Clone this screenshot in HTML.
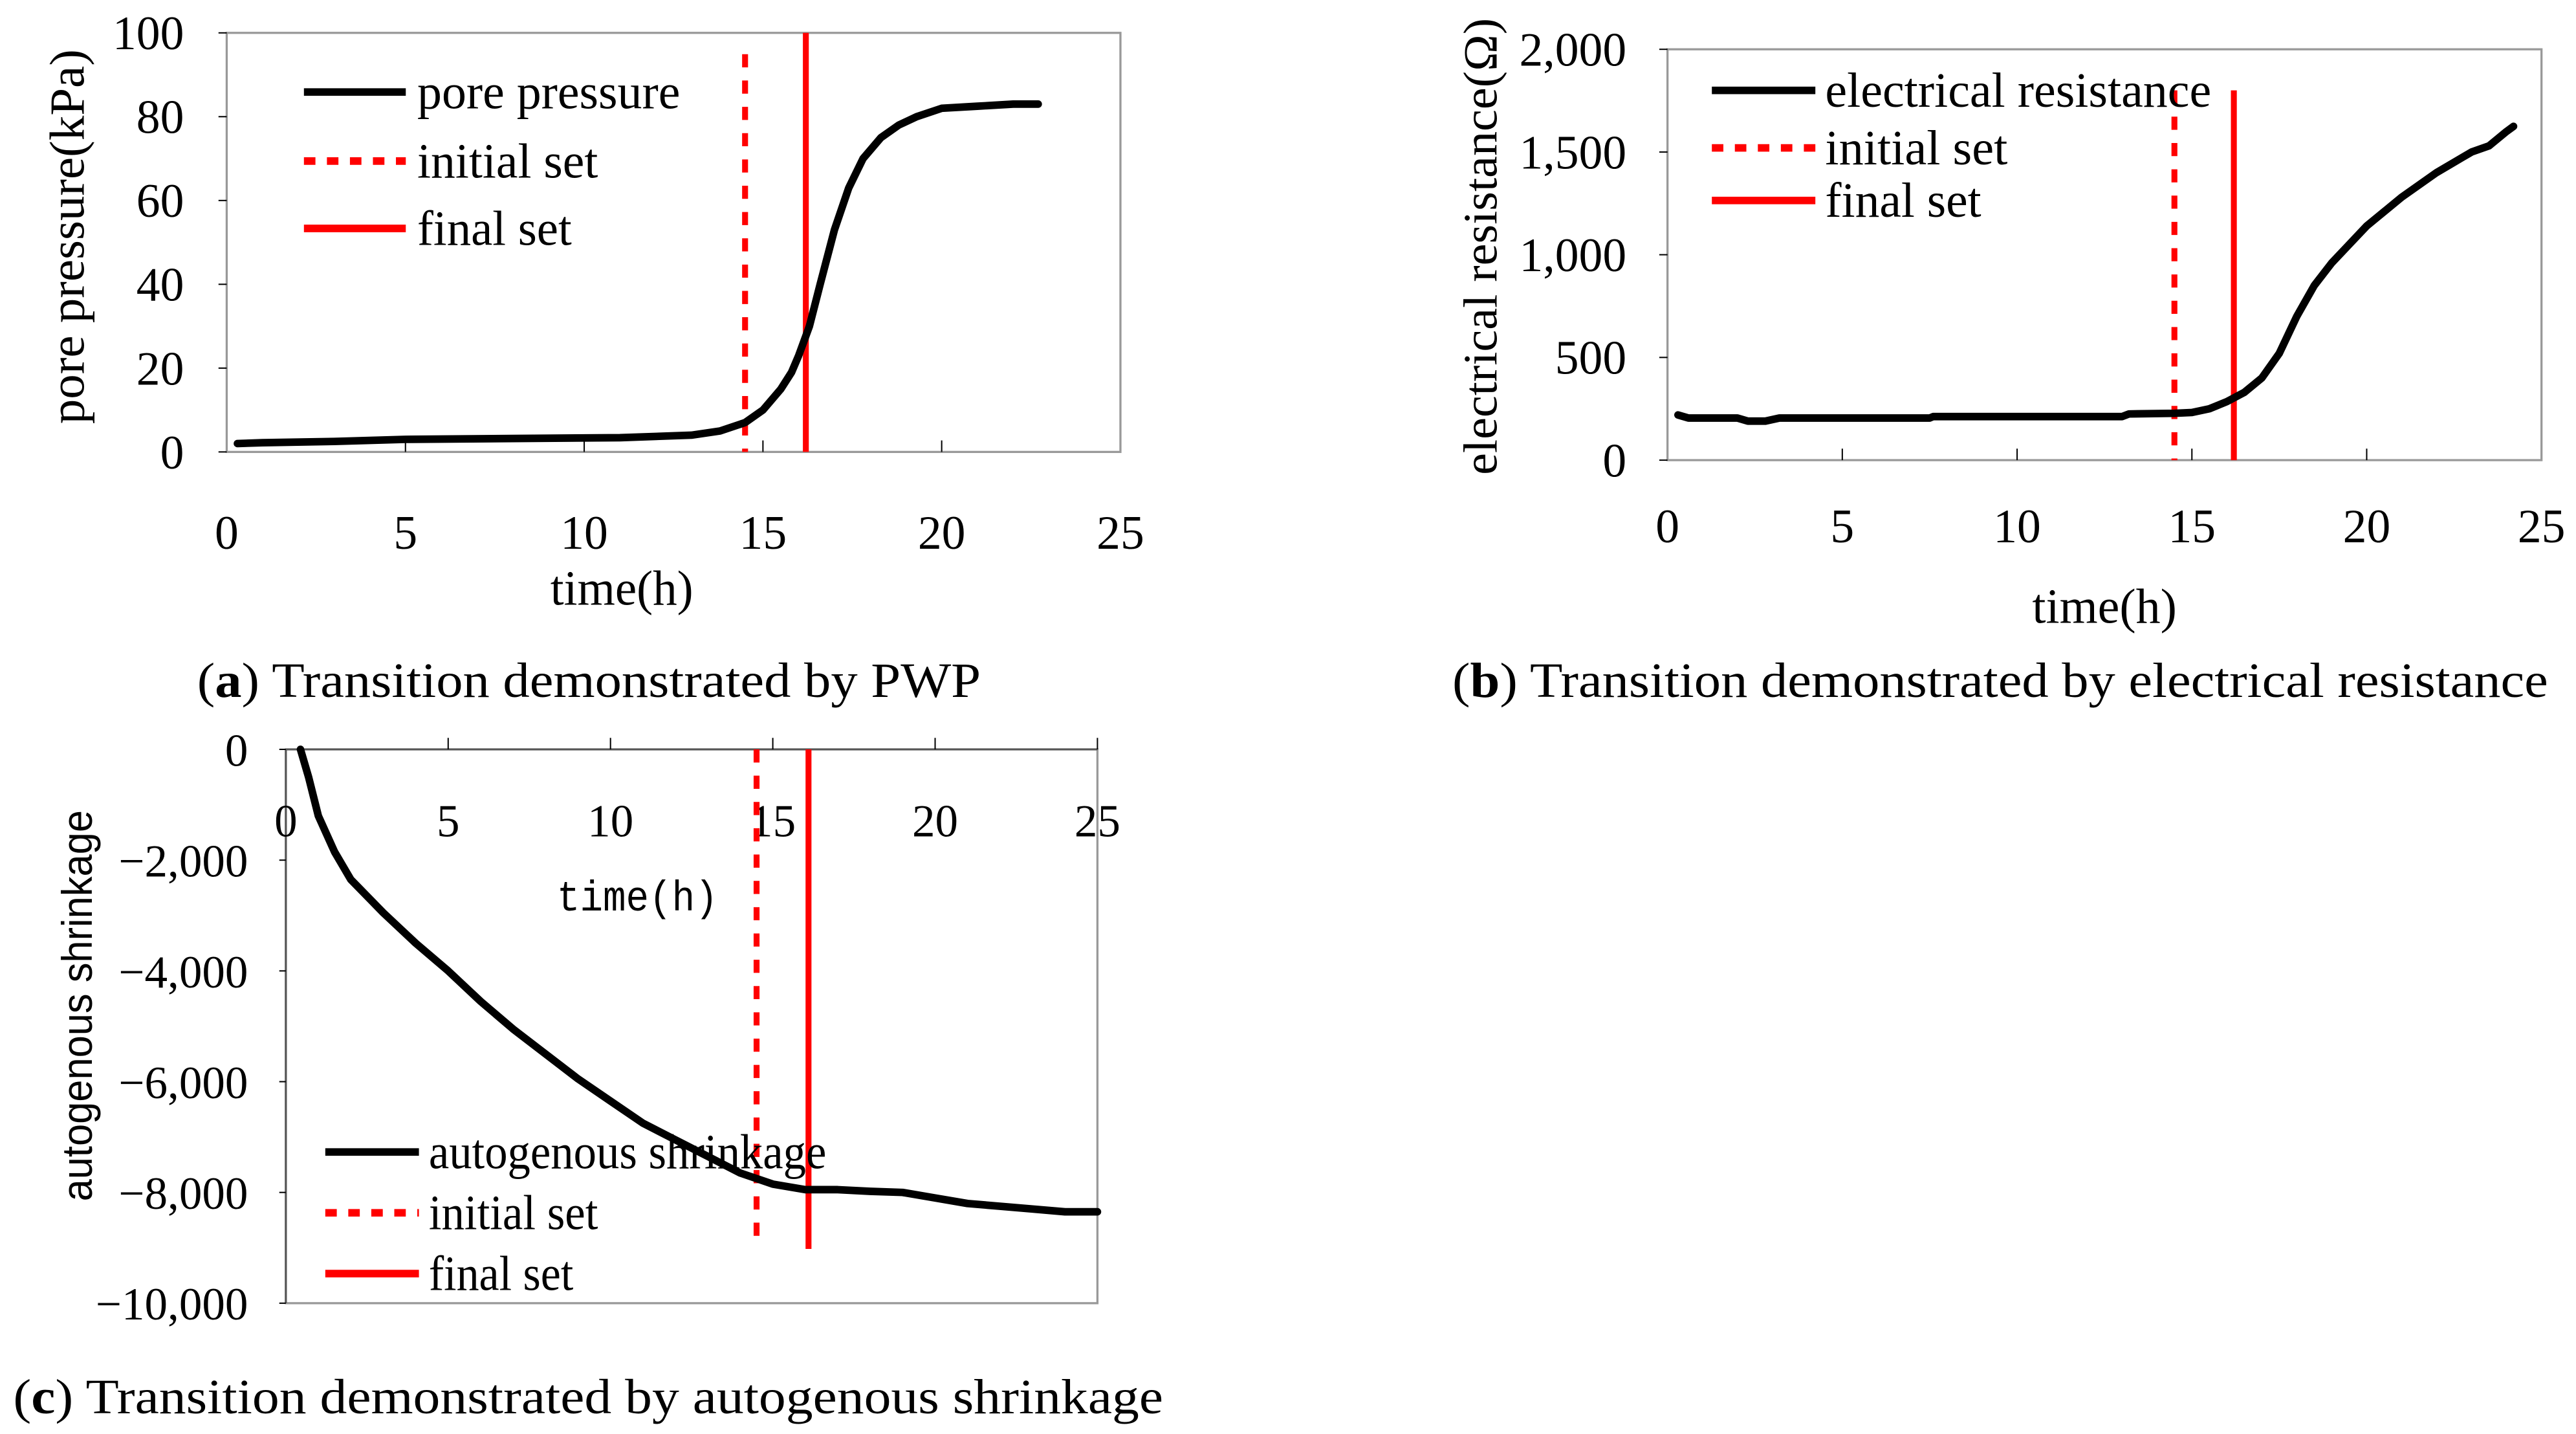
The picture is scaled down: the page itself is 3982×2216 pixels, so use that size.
<!DOCTYPE html>
<html><head><meta charset="utf-8">
<style>
html,body{margin:0;padding:0;background:#fff;}
svg{display:block;}
text{font-family:"Liberation Serif",serif;fill:#000;}
.sans{font-family:"Liberation Sans",sans-serif;}
.mono{font-family:"Liberation Mono",monospace;}
</style></head>
<body>
<svg id="fig" width="3982" height="2216" viewBox="0 0 1568 872.6" xmlns="http://www.w3.org/2000/svg">
<g id="pa"></g>
<g id="pb"></g>
<g id="pc"></g>
<text x="120" y="424" font-size="30" textLength="477" lengthAdjust="spacingAndGlyphs">(<tspan font-weight="bold">a</tspan>) Transition demonstrated by PWP</text>
<text x="884" y="424" font-size="30" textLength="667" lengthAdjust="spacingAndGlyphs">(<tspan font-weight="bold">b</tspan>) Transition demonstrated by electrical resistance</text>
<text x="8" y="860" font-size="30" textLength="700" lengthAdjust="spacingAndGlyphs">(<tspan font-weight="bold">c</tspan>) Transition demonstrated by autogenous shrinkage</text>
</svg>
<script>
// Panel A data
const aTimes = [0.3,1,3,5,8,11,13,13.8,14.5,15,15.5,15.8,16,16.3,16.6,17,17.4,17.8,18.3,18.8,19.3,20,21,22,22.7];
const aValues = [2,2.2,2.5,3,3.2,3.4,4,5,7,10,15,19,23,30,40,53,63,70,75,78,80,82,82.5,83,83];
const aYTicks = [0,20,40,60,80,100];
const aXTicks = [0,5,10,15,20,25];
const aSets = [14.5,16.2];
// Panel B data
const bTimes = [0.3,0.6,2,2.3,2.8,3.2,7.5,7.6,13,13.2,14.5,15,15.5,16,16.5,17,17.5,18,18.5,19,19.5,20,21,22,23,23.5,24,24.2];
const bValues = [220,205,205,190,190,205,205,212,212,225,228,232,250,285,330,400,520,700,850,960,1050,1140,1280,1400,1500,1530,1600,1625];
const bYTicks = [0,500,1000,1500,2000];
const bYLabels = ["0","500","1,000","1,500","2,000"];
const bXTicks = [0,5,10,15,20,25];
const bSets = [14.5,16.2];
// Panel C data
const cTimes = [0.45,0.7,1,1.5,2,3,4,5,6,7,8,9,10,11,12,13,14,15,16,17,18,19,20,21,22,23,24,25];
const cValues = [0,-500,-1200,-1850,-2350,-2950,-3500,-4000,-4550,-5050,-5500,-5950,-6350,-6750,-7050,-7350,-7650,-7850,-7950,-7950,-7980,-8000,-8100,-8200,-8250,-8300,-8350,-8350];
const cYTicks = [0,-2000,-4000,-6000,-8000,-10000];
const cYLabels = ["0","\u22122,000","\u22124,000","\u22126,000","\u22128,000","\u221210,000"];
const cXTicks = [0,5,10,15,20,25];
const cSets = [14.5,16.1];

const NS="http://www.w3.org/2000/svg";
function mk(parent,tag,attrs,txt){const e=document.createElementNS(NS,tag);for(const k in attrs)e.setAttribute(k,attrs[k]);if(txt!==undefined)e.textContent=txt;parent.appendChild(e);return e;}
function scale(d0,d1,r0,r1){return v=>r0+(v-d0)/(d1-d0)*(r1-r0);}
function curve(g,xs,ys,X,Y,name){
  const d=xs.map((t,i)=>(i?'L':'M')+X(t).toFixed(2)+','+Y(ys[i]).toFixed(2)).join('');
  const p=mk(g,'path',{d:d,fill:'none',stroke:'#000','stroke-width':4.6,'stroke-linejoin':'round','stroke-linecap':'round'});
  
  
}
function legend(g,x0,x1,tx,ys,labels,lens,fs){
  const styles=[{stroke:'#000'},{stroke:'#f00',dash:'7,7'},{stroke:'#f00'}];
  labels.forEach((lab,i)=>{
    const l=mk(g,'line',{x1:x0,x2:x1,y1:ys[i],y2:ys[i],stroke:styles[i].stroke,'stroke-width':4.6});
    if(styles[i].dash)l.setAttribute('stroke-dasharray',styles[i].dash);
    
    
    const t=mk(g,'text',{x:tx,y:ys[i]+10,'font-size':fs,textLength:lens[i],lengthAdjust:'spacingAndGlyphs'},lab);
    
    
  });
}
function setLines(g,sets,X,yTopDash,yTopSolid,yBot,yBotDash){
  const a=mk(g,'line',{x1:X(sets[0]),x2:X(sets[0]),y1:yTopDash,y2:yBotDash,stroke:'#f00','stroke-width':3.6,'stroke-dasharray':'8,8'});
  
  
  const b=mk(g,'line',{x1:X(sets[1]),x2:X(sets[1]),y1:yTopSolid,y2:yBot,stroke:'#f00','stroke-width':3.6});
  
  
}

// ---- Panel A
(function(){
  const g=document.getElementById('pa');
  const L=138,R=682,T=20,B=275;
  const X=scale(0,25,L,R),Y=scale(0,100,B,T);
  const box=mk(g,'rect',{x:L,y:T,width:R-L,height:B-T,fill:'none',stroke:'#999','stroke-width':1.3});
  
  
  aYTicks.forEach(v=>{
    mk(g,'line',{x1:L-5,x2:L,y1:Y(v),y2:Y(v),stroke:'#000','stroke-width':0.8});
    const t=mk(g,'text',{x:112,y:Y(v)+10,'font-size':29,'text-anchor':'end'},String(v));
    
    
  });
  aXTicks.forEach(v=>{
    if(v>0&&v<25)mk(g,'line',{x1:X(v),x2:X(v),y1:B-7,y2:B,stroke:'#000','stroke-width':0.8});
    const t=mk(g,'text',{x:X(v),y:334,'font-size':29,'text-anchor':'middle'},String(v));
    
    
  });
  const xt=mk(g,'text',{x:335,y:368,'font-size':30,textLength:87,lengthAdjust:'spacingAndGlyphs'},'time(h)');
  
  
  const yt=mk(g,'text',{x:0,y:0,'font-size':30,'text-anchor':'middle',transform:'translate(51,144) rotate(-90)',textLength:228,lengthAdjust:'spacingAndGlyphs'},'pore pressure(kPa)');
  
  
  setLines(g,aSets,X,33,T,B,B);
  curve(g,aTimes,aValues,X,Y,'pore-pressure-line');
  legend(g,185,247,254,[56,98,139],['pore pressure','initial set','final set'],[160,110,94],30);
})();

// ---- Panel B
(function(){
  const g=document.getElementById('pb');
  const L=1015,R=1547,T=30,B=280;
  const X=scale(0,25,L,R),Y=scale(0,2000,B,T);
  const box=mk(g,'rect',{x:L,y:T,width:R-L,height:B-T,fill:'none',stroke:'#999','stroke-width':1.3});
  
  
  bYTicks.forEach((v,i)=>{
    mk(g,'line',{x1:L-5,x2:L,y1:Y(v),y2:Y(v),stroke:'#000','stroke-width':0.8});
    const t=mk(g,'text',{x:990,y:Y(v)+10,'font-size':29,'text-anchor':'end'},bYLabels[i]);
    
    
  });
  bXTicks.forEach(v=>{
    if(v>0&&v<25)mk(g,'line',{x1:X(v),x2:X(v),y1:B-7,y2:B,stroke:'#000','stroke-width':0.8});
    const t=mk(g,'text',{x:X(v),y:330,'font-size':29,'text-anchor':'middle'},String(v));
    
    
  });
  const xt=mk(g,'text',{x:1237,y:379,'font-size':30,textLength:88,lengthAdjust:'spacingAndGlyphs'},'time(h)');
  
  
  const yt=mk(g,'text',{x:0,y:0,'font-size':29,'text-anchor':'middle',transform:'translate(911,150) rotate(-90)',textLength:278,lengthAdjust:'spacingAndGlyphs'},'electrical resistance(\u03A9)');
  
  
  setLines(g,bSets,X,Y(1800),Y(1800),B,B);
  curve(g,bTimes,bValues,X,Y,'electrical-resistance-line');
  legend(g,1042,1105,1111,[55,90,122],['electrical resistance','initial set','final set'],[235,111,95],30);
})();

// ---- Panel C
(function(){
  const g=document.getElementById('pc');
  const L=174,R=668,T=456,B=793;
  const X=scale(0,25,L,R),Y=scale(-10000,0,B,T);
  const box=mk(g,'rect',{x:L,y:T,width:R-L,height:B-T,fill:'none',stroke:'#999','stroke-width':1.3});
  
  
  mk(g,'line',{x1:L,x2:R,y1:T,y2:T,stroke:'#555','stroke-width':1.2});
  mk(g,'line',{x1:L,x2:L,y1:T,y2:B,stroke:'#555','stroke-width':1.2});
  cYTicks.forEach((v,i)=>{
    mk(g,'line',{x1:L-4,x2:L,y1:Y(v),y2:Y(v),stroke:'#000','stroke-width':0.8});
    const t=mk(g,'text',{x:151,y:Y(v)+10,'font-size':28,'text-anchor':'end'},cYLabels[i]);
    
    
  });
  cXTicks.forEach(v=>{
    if(v>0)mk(g,'line',{x1:X(v),x2:X(v),y1:T-7,y2:T,stroke:'#000','stroke-width':0.8});
    const t=mk(g,'text',{x:X(v),y:509,'font-size':28,'text-anchor':'middle'},String(v));
    
    
  });
  const xt=mk(g,'text',{x:388,y:554,'font-size':26,'text-anchor':'middle','class':'mono',textLength:98,lengthAdjust:'spacingAndGlyphs'},'time(h)');
  
  
  const yt=mk(g,'text',{x:0,y:0,'font-size':26,'text-anchor':'middle','class':'sans',transform:'translate(56,612) rotate(-90)',textLength:238,lengthAdjust:'spacingAndGlyphs'},'autogenous shrinkage');
  
  
  const a=mk(g,'line',{x1:X(cSets[0]),x2:X(cSets[0]),y1:T,y2:752,stroke:'#f00','stroke-width':3.6,'stroke-dasharray':'8,8'});
  
  
  const b=mk(g,'line',{x1:X(cSets[1]),x2:X(cSets[1]),y1:T,y2:760,stroke:'#f00','stroke-width':3.6});
  
  
  curve(g,cTimes,cValues,X,Y,'autogenous-shrinkage-line');
  legend(g,198,255,261,[701,738,775],['autogenous shrinkage','initial set','final set'],[242,103,88],30);
})();
</script>
</body></html>
